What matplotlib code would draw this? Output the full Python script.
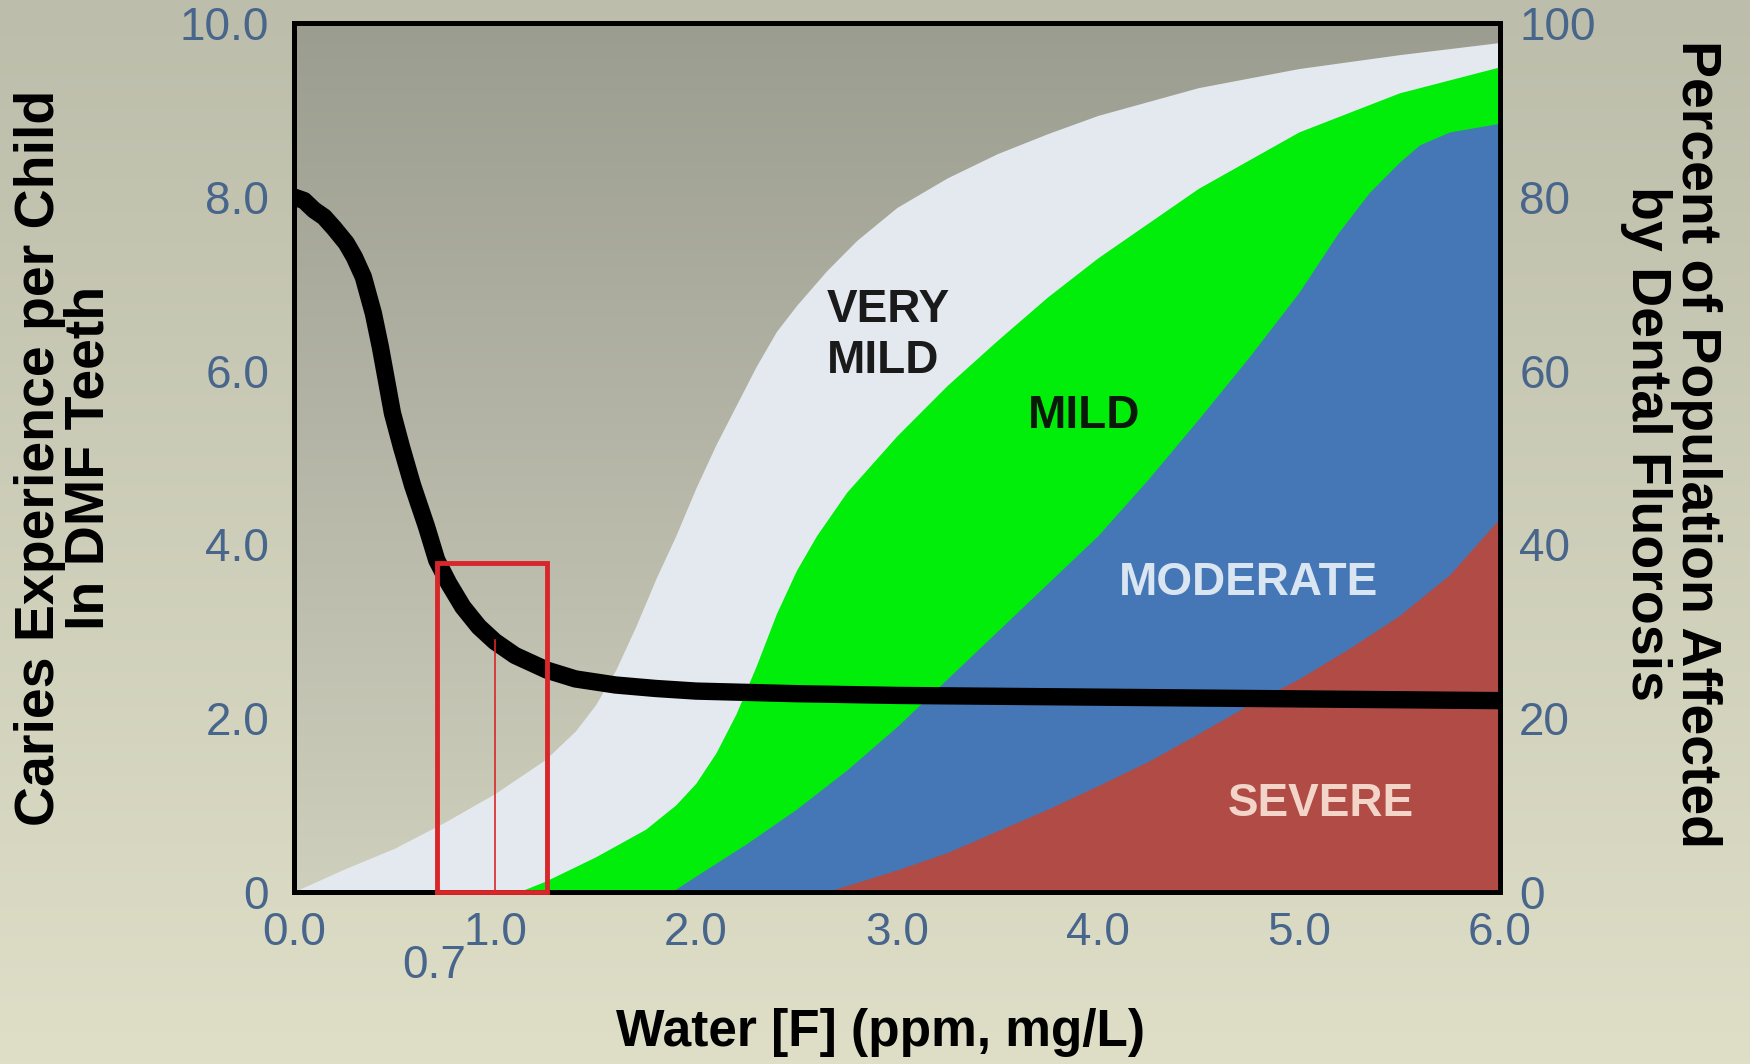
import numpy as np
import matplotlib.pyplot as plt
from matplotlib.colors import LinearSegmentedColormap
from matplotlib.patches import Rectangle

plt.rcParams['font.family'] = ['Liberation Sans', 'DejaVu Sans']

# caries experience (DMF teeth per child) vs water fluoride (ppm)
dmf_x = [0, 0.05, 0.1, 0.15, 0.2, 0.26, 0.3, 0.345, 0.395, 0.43, 0.46, 0.49, 0.535, 0.59, 0.66,
         0.71, 0.77, 0.84, 0.92, 1.0, 1.1, 1.26, 1.4, 1.6, 1.8, 2.0, 2.5, 3.0, 4.0, 5.0, 6.0]
dmf_y = [8.0, 7.96, 7.85, 7.77, 7.64, 7.47, 7.31, 7.08, 6.66, 6.27, 5.89, 5.51, 5.12, 4.68, 4.2,
         3.82, 3.55, 3.28, 3.05, 2.88, 2.72, 2.55, 2.45, 2.38, 2.34, 2.31, 2.28, 2.26, 2.24, 2.22, 2.2]

# fluorosis, cumulative percent of population (top edge of each band)
very_mild_x = [0, 0.25, 0.5, 0.75, 1.0, 1.25, 1.4, 1.5, 1.6, 1.7, 1.8, 1.9, 2.0, 2.1, 2.2,
               2.3, 2.4, 2.5, 2.65, 2.8, 3.0, 3.25, 3.5, 3.75, 4.0, 4.5, 5.0, 5.5, 6.0]
very_mild = [0, 2.6, 5, 8, 11.3, 15.2, 18.5, 21.5, 25.5, 30.5, 36, 41, 46.5, 51.5, 56,
             60.5, 64.5, 67.5, 71.5, 75, 78.8, 82.2, 85, 87.3, 89.4, 92.6, 94.8, 96.4, 97.8]

mild_x = [1.12, 1.25, 1.5, 1.75, 1.9, 2.0, 2.1, 2.2, 2.3, 2.4, 2.5, 2.6, 2.75, 3.0, 3.25,
          3.5, 3.75, 4.0, 4.5, 5.0, 5.5, 6.0]
mild = [0, 1.2, 4, 7.2, 10, 12.5, 16, 20.5, 26, 32, 37, 41, 46, 52.5, 58.3,
        63.5, 68.5, 73, 81, 87.5, 92, 95]

moderate_x = [1.88, 2.0, 2.25, 2.5, 2.75, 3.0, 3.25, 3.5, 3.75, 4.0, 4.25, 4.5, 4.75, 5.0,
              5.2, 5.35, 5.5, 5.6, 5.75, 6.0]
moderate = [0, 1.8, 5.5, 9.5, 14, 19, 24.5, 30, 35.5, 41, 47.5, 54.4, 61.5, 69,
            76, 80.5, 84, 86, 87.5, 88.5]

severe_x = [2.65, 2.75, 3.0, 3.25, 3.5, 3.75, 4.0, 4.25, 4.5, 4.75, 5.0, 5.25, 5.5, 5.75, 6.0]
severe = [0, 0.7, 2.5, 4.5, 7, 9.5, 12.2, 15, 18.2, 21.5, 24.5, 28, 31.8, 36.5, 43]

# recommended range box
optimal_range = (0.71, 1.26)
optimal_top = 3.78
marker_ppm = 1.0
marker_top = 2.9

x_ticks = [0, 1, 2, 3, 4, 5, 6]
x_labels = ['0.0', '1.0', '2.0', '3.0', '4.0', '5.0', '6.0']
left_ticks = [0, 2, 4, 6, 8, 10]
left_labels = ['0', '2.0', '4.0', '6.0', '8.0', '10.0']
right_ticks = [0, 20, 40, 60, 80, 100]

tick_color = '#48658c'

fig = plt.figure(figsize=(17.5, 10.64), dpi=100)

# slide background
bg = fig.add_axes([0, 0, 1, 1], zorder=-10)
bg_cmap = LinearSegmentedColormap.from_list('bg', ['#dfdfc8', '#bcbdaa'])
bg.imshow(np.linspace(0, 1, 256).reshape(-1, 1), aspect='auto', cmap=bg_cmap,
          origin='lower', extent=[0, 1, 0, 1])
bg.axis('off')

rect = [0.168, 0.162, 0.689, 0.816]
ax = fig.add_axes(rect)          # DMF axis (left)
axp = ax.twinx()                 # percent axis (right)
ax.set_zorder(axp.get_zorder() + 1)
ax.patch.set_visible(False)

# plot area gradient
in_cmap = LinearSegmentedColormap.from_list('in', ['#cfcfbd', '#9b9d90'])
axp.imshow(np.linspace(0, 1, 256).reshape(-1, 1), aspect='auto', cmap=in_cmap,
           origin='lower', extent=[0, 6, 0, 100], zorder=0)

axp.fill_between(very_mild_x, 0, very_mild, color='#e4e9ef', lw=0, zorder=1)
axp.fill_between(mild_x, 0, mild, color='#00ee0a', lw=0, zorder=2)
axp.fill_between(moderate_x, 0, moderate, color='#4577b7', lw=0, zorder=3)
axp.fill_between(severe_x, 0, severe, color='#b04b46', lw=0, zorder=4)

ax.plot(dmf_x, dmf_y, color='black', lw=12.5, solid_capstyle='butt',
        solid_joinstyle='round', zorder=3)

ax.add_patch(Rectangle((optimal_range[0], 0), optimal_range[1] - optimal_range[0], optimal_top,
                       fill=False, edgecolor='#d8262a', lw=3.5, zorder=5, clip_on=False))
ax.plot([marker_ppm, marker_ppm], [0, marker_top], color='#d8262a', lw=1.2, zorder=5)

ax.text(2.65, 6.41, 'VERY\nMILD', fontsize=33, fontweight='bold', color='#1a1a1a',
        ha='left', va='center', zorder=6)
ax.text(3.93, 5.48, 'MILD', fontsize=33, fontweight='bold', color='#0a1a0a',
        ha='center', va='center', zorder=6)
ax.text(4.75, 3.55, 'MODERATE', fontsize=33, fontweight='bold', color='#d9e6f2',
        ha='center', va='center', zorder=6)
ax.text(5.11, 1.01, 'SEVERE', fontsize=33, fontweight='bold', color='#f2d4c8',
        ha='center', va='center', zorder=6)

ax.set_xlim(0, 6)
ax.set_ylim(0, 10)
axp.set_ylim(0, 100)

ax.set_xticks(x_ticks)
ax.set_xticklabels(x_labels)
ax.set_xticks([0.7], minor=True)
ax.set_xticklabels(['0.7'], minor=True)
ax.set_yticks(left_ticks)
ax.set_yticklabels(left_labels)
axp.set_yticks(right_ticks)

ax.tick_params(axis='x', which='major', length=0, pad=14, labelsize=33, labelcolor=tick_color)
ax.tick_params(axis='x', which='minor', length=0, pad=38, labelsize=33, labelcolor=tick_color)
ax.tick_params(axis='y', length=0, pad=18, labelsize=33, labelcolor=tick_color)
axp.tick_params(axis='y', length=0, pad=14, labelsize=33, labelcolor=tick_color)

for a in (ax, axp):
    for s in a.spines.values():
        s.set_linewidth(3.5)
        s.set_color('black')

fig.text(0.037, 0.57, 'Caries Experience per Child\nIn DMF Teeth', rotation=90,
         fontsize=40, fontweight='bold', ha='center', va='center',
         multialignment='center', linespacing=0.95)
fig.text(0.955, 0.583, 'Percent of Population Affected\nby Dental Fluorosis', rotation=270,
         fontsize=40, fontweight='bold', ha='center', va='center',
         multialignment='center', linespacing=0.95)
fig.text(0.503, 0.030, 'Water [F] (ppm, mg/L)', fontsize=37, fontweight='bold',
         ha='center', va='center')

fig.savefig('out.png', dpi=100)
